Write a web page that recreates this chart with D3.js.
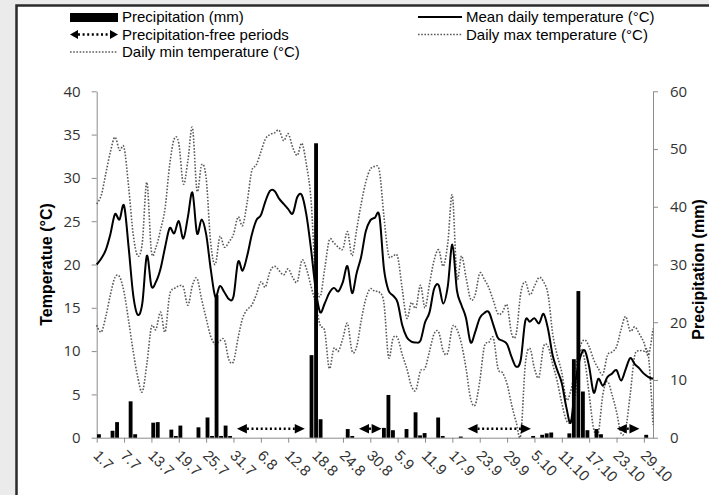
<!DOCTYPE html>
<html>
<head>
<meta charset="utf-8">
<script src="https://cdn.jsdelivr.net/npm/d3@7"></script>
<style>
  html, body { margin: 0; padding: 0; background: #ebebeb; }
  svg { display: block; font-family: "Open Sans", "Noto Sans", sans-serif; }
</style>
</head>
<body>
<svg id="chart" width="709" height="495"></svg>
<script>
// Season 1.7 – 31.10, one category per day
const months = [[7, 31], [8, 31], [9, 30], [10, 31]];
const days = [];
months.forEach(([m, n]) => { for (let d = 1; d <= n; d++) days.push(d + "." + m); });

const tickLabels = ["1.7","7.7","13.7","19.7","25.7","31.7","6.8","12.8","18.8","24.8","30.8",
  "5.9","11.9","17.9","23.9","29.9","5.10","11.10","17.10","23.10","29.10"];

const tempTicks = [0, 5, 10, 15, 20, 25, 30, 35, 40];
const precipTicks = [0, 10, 20, 30, 40, 50, 60];

// Mean daily temperature (°C)
const meanTemp = [
  20.0, 20.7, 21.7, 23.5, 25.8, 25.2, 26.8, 22.0, 16.5, 14.2,
  15.5, 21.0, 17.5, 18.0, 19.5, 22.0, 24.2, 23.6, 25.0, 23.0,
  25.5, 28.3, 23.6, 25.2, 23.5, 19.5, 16.3, 17.5, 16.8, 16.0,
  16.3, 20.3, 19.3, 21.0, 23.4, 25.1, 25.7, 27.3, 28.5, 28.5,
  27.6, 27.0, 26.4, 25.9, 27.8, 28.0, 25.7, 21.8, 17.2, 14.5,
  15.5, 16.7, 17.3, 16.9, 18.0, 19.8, 16.7, 19.0, 20.9, 23.8,
  25.1, 25.4, 25.6, 19.5, 17.0, 16.4, 15.6, 13.0, 11.6, 11.1,
  11.0, 11.2, 13.3, 14.5, 17.2, 17.6, 15.5, 17.5, 22.3, 17.0,
  15.3, 13.8, 11.0, 12.2, 13.8, 14.4, 14.5, 13.0, 11.5, 11.2,
  10.8, 9.3, 8.2, 9.0, 13.5, 13.4, 13.8, 13.2, 14.3, 12.5,
  9.5, 7.8, 6.3, 3.5, 1.8, 6.5, 9.2, 10.1, 8.2, 5.2,
  6.8, 6.0, 7.0, 7.4, 7.8, 6.6, 7.9, 9.2, 8.5, 8.0,
  7.4, 7.0, 6.8
];

// Daily max temperature (°C)
const maxTemp = [
  27.0, 28.0, 30.5, 33.0, 34.7, 33.2, 33.5, 29.0, 23.5, 21.0,
  22.5, 29.5, 21.5, 22.0, 24.0, 26.5, 31.5, 34.5, 34.0, 29.3,
  32.0, 35.8, 28.5, 31.5, 30.0, 22.5, 20.0, 23.2, 22.0, 22.6,
  23.5, 25.5, 24.5, 27.2, 30.8, 31.5, 33.0, 34.5, 35.0, 35.2,
  35.5, 34.3, 35.1, 33.5, 32.6, 34.0, 31.5, 27.5, 18.5, 16.3,
  19.5, 22.8, 22.5, 22.0, 21.8, 23.8, 21.0, 24.0, 27.0, 29.5,
  31.0, 31.3, 30.8, 25.5, 21.1, 21.0, 20.9, 17.2, 13.8, 15.6,
  15.0, 17.6, 15.0, 17.8, 20.5, 21.7, 19.8, 22.5, 28.0, 18.5,
  21.0, 18.5, 16.0, 16.5, 19.0, 18.3, 17.3, 15.8, 14.3, 14.5,
  15.3, 12.0, 12.0, 16.7, 18.0, 16.5, 17.5, 18.5, 18.0, 16.5,
  12.0, 9.5, 7.5, 4.4, 5.5, 8.0, 10.5, 11.3, 10.5, 9.0,
  8.0, 7.3, 9.5, 9.9, 10.5, 12.5, 14.0, 12.3, 12.8, 12.0,
  11.0, 9.5, 12.6
];

// Daily min temperature (°C)
const minTemp = [
  13.0, 12.2, 14.0, 16.5, 18.5, 18.6, 16.8, 13.5, 10.0, 7.0,
  5.3, 8.5, 12.8, 12.5, 14.5, 12.2, 16.5, 17.2, 17.5, 17.4,
  15.3, 17.6, 18.4, 16.0, 13.8, 11.7, 10.8, 11.2, 11.3, 9.0,
  8.8, 11.5, 13.8, 14.8, 15.3, 16.5, 18.0, 17.4, 19.2, 19.8,
  19.3, 18.8, 19.5, 18.5, 18.0, 20.5, 19.5, 17.5, 15.5, 13.0,
  12.3, 8.0, 10.3, 10.0, 11.5, 13.2, 10.0, 10.5, 13.5, 16.0,
  17.2, 16.9, 16.8, 15.5, 9.3, 11.5, 11.5, 9.6, 8.0, 6.0,
  5.5, 7.7, 8.0, 10.0, 12.0, 12.2, 10.0, 9.8, 12.8, 12.5,
  10.8, 8.0, 4.5, 3.8, 6.5, 10.5, 11.0, 11.5, 8.0, 7.5,
  6.2, 3.8, 1.8, 0.3, 8.5, 10.3, 8.0, 7.0, 10.5, 10.5,
  8.5, 6.5, 4.0, 2.0, 2.0, 5.0, 10.0, 9.0, 5.0, 1.0,
  0.5, 5.0, 6.5, 5.0, 3.0, 0.5, 1.0, 5.0, 9.5, 10.0,
  10.0, 9.5, 1.5
];

// Precipitation (mm)
const precipitation = [
  0.6, 0, 0, 1.2, 2.7, 0, 0, 6.3, 0.6, 0,
  0, 0, 2.6, 2.7, 0, 0, 1.4, 0.3, 2.1, 0,
  0, 0, 1.8, 0, 3.5, 0.3, 24.7, 0.3, 2.1, 0.3,
  0, 0, 0, 0, 0, 0, 0, 0, 0, 0,
  0, 0, 0, 0, 0, 0, 0, 14.3, 51.0, 3.2,
  0, 0, 0, 0, 0, 1.5, 0.3, 0, 0, 0,
  0, 0, 0, 1.7, 7.4, 1.3, 0, 0, 1.5, 0,
  4.4, 0.4, 0.8, 0, 0, 3.5, 0.3, 0, 0, 0,
  0.2, 0, 0, 0, 0, 0, 0, 0, 0, 0,
  0, 0, 0, 0, 0, 0, 0.3, 0, 0.5, 0.75,
  0.9, 0, 0, 0, 0.75, 13.6, 25.4, 8.0, 1.3, 0,
  1.5, 0.6, 0, 0, 0, 0, 0, 0, 0, 0,
  0, 0.5, 0
];

// Precipitation-free periods (first and last dry day)
const dryStart = ["1.8", "28.8", "21.9", "24.10"];
const dryEnd   = ["15.8", "1.9", "4.10", "28.10"];

const svg = d3.select("#chart");
const W = 709, H = 495;
const plot = { left: 96.7, right: 653, top: 91.3, bottom: 437.7 };
const axisColor = "#8c8c8c";
const textColor = "#333";
const legendFont = '"Liberation Sans", Arial, sans-serif';

// Frame
svg.append("rect").attr("x", 16.5).attr("y", 5.5).attr("width", W).attr("height", H)
  .attr("fill", "#fff").attr("stroke", "#2b2b2b").attr("stroke-width", 2.5);

// Scales: lines on the tick marks, columns between them
const xLine = d3.scalePoint().domain(days).range([plot.left, plot.right]);
const xBar = d3.scaleBand().domain(days).range([plot.left, plot.right]).paddingInner(0.15).paddingOuter(0.075);
const yT = d3.scaleLinear().domain([0, 40]).range([plot.bottom, plot.top]);
const yP = d3.scaleLinear().domain([0, 60]).range([plot.bottom, plot.top]);

// Left axis
const gL = svg.append("g").attr("transform", `translate(${plot.left},0)`)
  .call(d3.axisLeft(yT).tickValues(tempTicks).tickSize(5).tickSizeOuter(0).tickPadding(11));
// Right axis
const gR = svg.append("g").attr("transform", `translate(${plot.right},0)`)
  .call(d3.axisRight(yP).tickValues(precipTicks).tickSize(5).tickSizeOuter(0).tickPadding(12));
// Bottom axis
const gB = svg.append("g").attr("transform", `translate(0,${plot.bottom})`)
  .call(d3.axisBottom(xLine).tickValues(tickLabels).tickSize(5).tickSizeOuter(0).tickFormat(""));

[gL, gR, gB].forEach(g => {
  g.select(".domain").attr("stroke", axisColor).attr("stroke-width", 1);
  g.selectAll(".tick line").attr("stroke", axisColor);
  g.selectAll("text").attr("fill", textColor).attr("font-size", 15)
    .attr("font-family", '"Open Sans", sans-serif');
});

// Rotated date labels
gB.selectAll(".tick").append("text")
  .attr("transform", "translate(-1,15) rotate(45)")
  .attr("text-anchor", "start")
  .attr("dy", "0.35em")
  .attr("fill", textColor)
  .attr("font-size", 15)
  .text(d => d);

// Axis titles
svg.append("text")
  .attr("transform", `translate(52,${(plot.top + plot.bottom) / 2}) rotate(-90)`)
  .attr("text-anchor", "middle").attr("font-weight", "bold").attr("font-size", 16)
  .attr("font-family", legendFont).attr("fill", "#000").text("Temperatue (°C)");
svg.append("text")
  .attr("transform", `translate(704,${(plot.top + plot.bottom) / 2 + 5}) rotate(-90)`)
  .attr("text-anchor", "middle").attr("font-weight", "bold").attr("font-size", 16)
  .attr("font-family", legendFont).attr("fill", "#000").text("Precipitation (mm)");

// Temperature lines
const curve = d3.curveCatmullRom.alpha(0);
const lineOf = d3.line().x((d, i) => xLine(days[i])).y(d => yT(d)).curve(curve);
const dotted = { stroke: "#5a5a5a", width: 1.6, dash: "1.6 1.6" };

svg.append("path").datum(maxTemp).attr("d", lineOf).attr("fill", "none")
  .attr("stroke", dotted.stroke).attr("stroke-width", dotted.width).attr("stroke-dasharray", dotted.dash);
svg.append("path").datum(minTemp).attr("d", lineOf).attr("fill", "none")
  .attr("stroke", dotted.stroke).attr("stroke-width", dotted.width).attr("stroke-dasharray", dotted.dash);
svg.append("path").datum(meanTemp).attr("d", lineOf).attr("fill", "none")
  .attr("stroke", "#000").attr("stroke-width", 2);

// Precipitation columns
svg.append("g").selectAll("rect")
  .data(precipitation.map((v, i) => ({ day: days[i], v })).filter(d => d.v > 0))
  .join("rect")
  .attr("x", d => xBar(d.day))
  .attr("width", xBar.bandwidth())
  .attr("y", d => yP(d.v))
  .attr("height", d => yP(0) - yP(d.v))
  .attr("fill", "#000");

// Double-headed dotted arrow
function arrow(g, x1, x2, y, head, hh) {
  g.append("line").attr("x1", x1 + head).attr("x2", x2 - head).attr("y1", y).attr("y2", y)
    .attr("stroke", "#000").attr("stroke-width", 2.4).attr("stroke-dasharray", "2 2.6");
  g.append("path").attr("d", `M${x1},${y}L${x1 + head},${y - hh}L${x1 + head},${y + hh}Z`).attr("fill", "#000");
  g.append("path").attr("d", `M${x2},${y}L${x2 - head},${y - hh}L${x2 - head},${y + hh}Z`).attr("fill", "#000");
}
const step = xBar.step();
const gA = svg.append("g");
dryStart.forEach((s, k) => {
  const x1 = plot.left + days.indexOf(s) * step;
  const x2 = plot.left + (days.indexOf(dryEnd[k]) + 1) * step;
  arrow(gA, x1, x2, plot.bottom - 9, 10, 4.8);
});

// Legend
const lg = svg.append("g").attr("font-size", 15).attr("font-family", legendFont);
function legendText(x, y, t) {
  lg.append("text").attr("x", x).attr("y", y).attr("dy", "0.35em").attr("fill", "#000").text(t);
}
lg.append("rect").attr("x", 70).attr("y", 13).attr("width", 48).attr("height", 9).attr("fill", "#000");
legendText(122, 17, "Precipitation (mm)");
arrow(lg, 70, 118, 34.5, 8, 4.5);
legendText(122, 34.5, "Precipitation-free periods");
lg.append("line").attr("x1", 70).attr("x2", 118).attr("y1", 52).attr("y2", 52)
  .attr("stroke", dotted.stroke).attr("stroke-width", dotted.width).attr("stroke-dasharray", dotted.dash);
legendText(122, 52, "Daily min temperature (°C)");
lg.append("line").attr("x1", 418).attr("x2", 462).attr("y1", 17).attr("y2", 17)
  .attr("stroke", "#000").attr("stroke-width", 2);
legendText(466, 17, "Mean daily temperature (°C)");
lg.append("line").attr("x1", 418).attr("x2", 462).attr("y1", 34.5).attr("y2", 34.5)
  .attr("stroke", dotted.stroke).attr("stroke-width", dotted.width).attr("stroke-dasharray", dotted.dash);
legendText(466, 34.5, "Daily max temperature (°C)");
</script>
</body>
</html>
